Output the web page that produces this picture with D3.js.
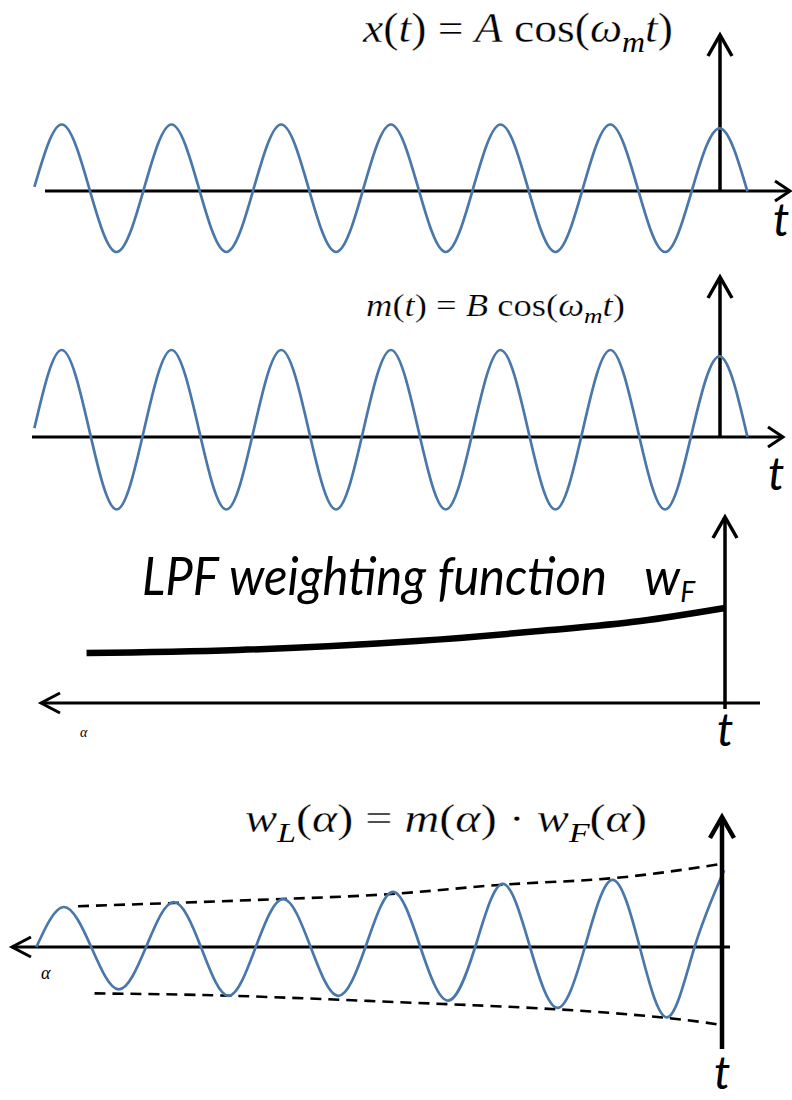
<!DOCTYPE html>
<html>
<head>
<meta charset="utf-8">
<script src="https://cdn.jsdelivr.net/npm/d3@7"></script>
<style>
  body { margin: 0; background: #fff; }
  svg { display: block; }
  text { white-space: pre; }
</style>
</head>
<body>
<svg id="chart"></svg>
<script>
// time in carrier periods, 0 = the current instant t (vertical axis)
const waveT = [-6.25, -6, -5.75, -5.5, -5.25, -5, -4.75, -4.5, -4.25, -4, -3.75, -3.5, -3.25,
  -3, -2.75, -2.5, -2.25, -2, -1.75, -1.5, -1.25, -1, -0.75, -0.5, -0.25, 0, 0.25];

// x(t) = A cos(wm t) (normalised to A)
const xValues = [0.02, 1, 0, -1, 0, 1, 0, -1, 0, 1, 0, -1, 0,
  1, 0, -1, 0, 1, 0, -1, 0, 1, 0, -1, 0, 0.94, -0.05];

// m(t) = B cos(wm t), second panel (normalised to B)
const mValues = [0.02, 1, 0, -1, 0, 1, 0, -1, 0, 1, 0, -1, 0,
  1, 0, -1, 0, 1, 0, -1, 0, 1, 0, -1, 0, 0.92, -0.09];

// LPF weighting function wF(alpha), alpha = periods back from t
const wfAlpha = [5.82, 4.44, 2.81, 1.59, 0.77, 0];
const wfValues = [0.526, 0.558, 0.653, 0.768, 0.863, 1.0];

// wL(alpha) = m(alpha) * wF(alpha), bottom panel
const wlT = [-6.25, -6, -5.75, -5.5, -5.25, -5, -4.75, -4.5, -4.25, -4, -3.75, -3.5, -3.25,
  -3, -2.75, -2.5, -2.25, -2, -1.75, -1.5, -1.25, -1, -0.75, -0.5, -0.25, 0.02];
const wlValues = [0, 0.50, 0, -0.53, 0, 0.56, 0, -0.61, 0, 0.60, 0, -0.61, 0,
  0.69, 0, -0.67, 0, 0.79, 0, -0.76, 0, 0.84, 0, -0.88, 0, 0.96];

// dashed envelopes of wL
const upperT = [-5.87, -5.0, -4.01, -2.94, -1.99, -1.0, 0];
const upperV = [0.51, 0.55, 0.60, 0.67, 0.78, 0.86, 1.04];
const lowerT = [-5.72, -4.46, -2.94, -1.49, -0.48, 0];
const lowerV = [-0.58, -0.61, -0.69, -0.78, -0.89, -0.975];

// labels: [text, kind]  i = italic, r = upright, s = italic subscript
const xLabel = [['x', 'i'], ['(', 'r'], ['t', 'i'], [')', 'r'], [' = ', 'r'], ['A', 'i'], [' cos', 'r'],
  ['(', 'r'], ['ω', 'i'], ['m', 's'], ['t', 'i'], [')', 'r']];
const mLabel = [['m', 'i'], ['(', 'r'], ['t', 'i'], [')', 'r'], [' = ', 'r'], ['B', 'i'], [' cos', 'r'],
  ['(', 'r'], ['ω', 'i'], ['m', 's'], ['t', 'i'], [')', 'r']];
const wlLabel = [['w', 'i'], ['L', 's'], ['(', 'r'], ['α', 'i'], [')', 'r'], [' = ', 'r'], ['m', 'i'],
  ['(', 'r'], ['α', 'i'], [')', 'r'], [' · ', 'r'], ['w', 'i'], ['F', 's'], ['(', 'r'], ['α', 'i'], [')', 'r']];
const lpfLabel = 'LPF weighting function';

const blue = '#4a77a9';
const serif = '"Liberation Serif", "DejaVu Serif", serif';
const sans = 'Lato, "Open Sans", sans-serif';
const period = 109.7;

const svg = d3.select('#chart')
    .attr('width', 792)
    .attr('height', 1100);

function tScale(axisX) {
  return d3.scaleLinear().domain([-6, 0]).range([axisX - 6 * period, axisX]);
}

function hArrow(y, xa, xb, side, w) {
  svg.append('line')
      .attr('x1', xa).attr('x2', xb).attr('y1', y).attr('y2', y)
      .attr('stroke', '#000').attr('stroke-width', w);
  const tip = side === 'right' ? xb : xa;
  const back = side === 'right' ? tip - 15 : tip + 19;
  svg.append('path')
      .attr('d', `M${back},${y - 10}L${tip},${y}L${back},${y + 10}`)
      .attr('fill', 'none').attr('stroke', '#000').attr('stroke-width', w);
}

function vArrow(x, yBottom, yTop, w) {
  svg.append('line')
      .attr('x1', x).attr('x2', x).attr('y1', yBottom).attr('y2', yTop)
      .attr('stroke', '#000').attr('stroke-width', w);
  svg.append('path')
      .attr('d', `M${x - 12},${yTop + 21}L${x},${yTop}L${x + 12},${yTop + 21}`)
      .attr('fill', 'none').attr('stroke', '#000').attr('stroke-width', w);
}

// squeeze / stretch a text horizontally so that it spans x0..x1
function fitWidth(sel, x0, x1) {
  const bb = sel.node().getBBox();
  const k = (x1 - x0) / bb.width;
  sel.attr('transform', `translate(${x0},0) scale(${k},1) translate(${-bb.x},0)`);
}

function mathText(parts, size, y, x0, x1) {
  const t = svg.append('text')
      .attr('x', 0).attr('y', y)
      .attr('font-family', serif)
      .attr('font-size', size);
  let shift = 0;
  parts.forEach(([s, kind]) => {
    const sp = t.append('tspan').text(s);
    const target = kind === 's' ? size * 0.24 : 0;
    if (target !== shift) { sp.attr('dy', target - shift); shift = target; }
    if (kind !== 'r') sp.attr('font-style', 'italic');
    if (kind === 's') sp.attr('font-size', size * 0.7);
    // thin the Times-like strokes slightly, Cambria Math is lighter
    else sp.attr('stroke', '#fff').attr('stroke-width', size * 0.008);
  });
  fitWidth(t, x0, x1);
  return t;
}

function bigT(x, y) {
  svg.append('text')
      .attr('x', x).attr('y', y)
      .attr('font-family', sans)
      .attr('font-style', 'italic')
      .attr('font-size', 46)
      .text('t');
}

// ---- panel 1: x(t)
{
  const xs = tScale(720);
  const ys = d3.scaleLinear().domain([-1, 1]).range([252, 124.5]);
  hArrow(191, 45, 790, 'right', 3);
  vArrow(720, 191, 35, 3.5);
  svg.append('path')
      .datum(d3.zip(waveT, xValues))
      .attr('d', d3.line().x(d => xs(d[0])).y(d => ys(d[1])).curve(d3.curveNatural))
      .attr('fill', 'none').attr('stroke', blue).attr('stroke-width', 2.7);
  mathText(xLabel, 42, 42, 362, 673);
  bigT(773, 236);
}

// ---- panel 2: m(t)
{
  const xs = tScale(720);
  const ys = d3.scaleLinear().domain([-1, 1]).range([509.5, 350]);
  hArrow(437, 32, 783, 'right', 3);
  vArrow(720, 437, 277, 3.5);
  svg.append('path')
      .datum(d3.zip(waveT, mValues))
      .attr('d', d3.line().x(d => xs(d[0])).y(d => ys(d[1])).curve(d3.curveNatural))
      .attr('fill', 'none').attr('stroke', blue).attr('stroke-width', 2.7);
  mathText(mLabel, 31, 316, 366, 625);
  bigT(768, 490);
}

// ---- panel 3: LPF weighting function
{
  const xs = d3.scaleLinear().domain([0, 6]).range([725, 725 - 6 * period]);
  const ys = d3.scaleLinear().domain([0, 1]).range([703, 608]);
  hArrow(703, 41, 760, 'left', 3);
  vArrow(725, 709, 517, 3.5);
  svg.append('path')
      .datum(d3.zip(wfAlpha, wfValues))
      .attr('d', d3.line().x(d => xs(d[0])).y(d => ys(d[1])).curve(d3.curveNatural))
      .attr('fill', 'none').attr('stroke', '#000').attr('stroke-width', 6.5);
  const lpf = svg.append('text')
      .attr('x', 0).attr('y', 595)
      .attr('font-family', sans).attr('font-style', 'italic')
      .attr('font-size', 52)
      .text(lpfLabel);
  fitWidth(lpf, 142, 607);
  const wf = svg.append('text')
      .attr('x', 644).attr('y', 595)
      .attr('font-family', sans).attr('font-style', 'italic')
      .attr('font-size', 50);
  wf.append('tspan').text('w');
  wf.append('tspan').attr('font-size', 28).attr('dy', 7).text('F');
  svg.append('text')
      .attr('x', 80).attr('y', 737)
      .attr('font-family', serif).attr('font-style', 'italic')
      .attr('font-size', 14)
      .text('α');
  bigT(717, 746);
}

// ---- panel 4: wL = m * wF
{
  const xs = tScale(722);
  const ys = d3.scaleLinear().domain([-1, 1]).range([947 + 80, 947 - 80]);
  hArrow(947, 12, 730, 'left', 3);
  const lineGen = d3.line().x(d => xs(d[0])).y(d => ys(d[1])).curve(d3.curveNatural);
  [[upperT, upperV], [lowerT, lowerV]].forEach(([tt, vv]) => {
    svg.append('path')
        .datum(d3.zip(tt, vv))
        .attr('d', lineGen)
        .attr('fill', 'none').attr('stroke', '#000')
        .attr('stroke-width', 2.6).attr('stroke-dasharray', '11,7');
  });
  svg.append('path')
      .datum(d3.zip(wlT, wlValues))
      .attr('d', lineGen)
      .attr('fill', 'none').attr('stroke', blue).attr('stroke-width', 2.7);
  vArrow(722, 1049, 817, 4.5);
  mathText(wlLabel, 40, 832, 245, 647);
  svg.append('text')
      .attr('x', 41).attr('y', 979)
      .attr('font-family', serif).attr('font-style', 'italic')
      .attr('font-size', 18)
      .text('α');
  bigT(714, 1089);
}
</script>
</body>
</html>
